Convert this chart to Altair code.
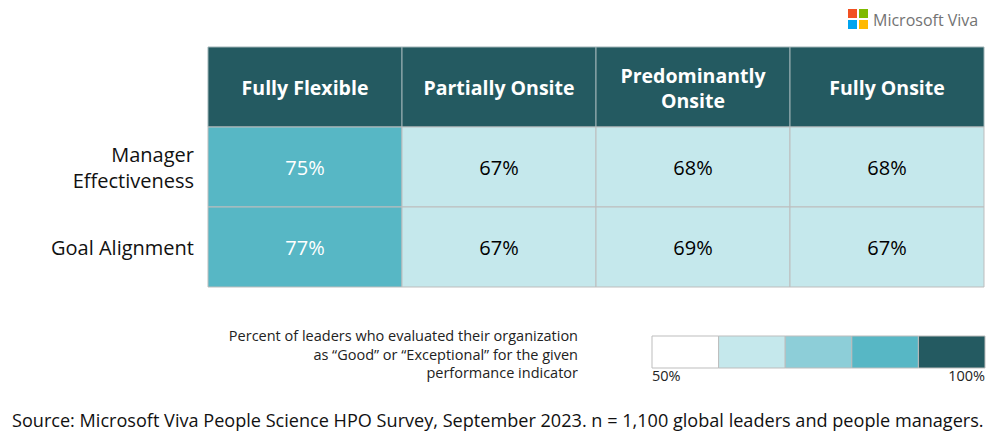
import altair as alt
import pandas as pd

# ---- data ----
columns = ["Fully Flexible", "Partially Onsite", "Predominantly Onsite", "Fully Onsite"]
column_labels = ["Fully Flexible", "Partially Onsite", "Predominantly\nOnsite", "Fully Onsite"]
rows = ["Manager Effectiveness", "Goal Alignment"]
row_labels = ["Manager\nEffectiveness", "Goal Alignment"]
manager_effectiveness = [75, 67, 68, 68]
goal_alignment = [77, 67, 69, 67]
legend_lo = [50, 60, 70, 80, 90]
legend_hi = [60, 70, 80, 90, 100]
legend_tick_values = [50, 100]
legend_tick_labels = ["50%", "100%"]
legend_caption = [
    "Percent of leaders who evaluated their organization",
    "as \u201cGood\u201d or \u201cExceptional\u201d for the given",
    "performance indicator",
]
source_text = "Source: Microsoft Viva People Science HPO Survey, September 2023. n = 1,100 global leaders and people managers."
palette = ["#FFFFFF", "#C5E8EC", "#8DCED8", "#57B7C5", "#245A61"]
thresholds = [60, 70, 75, 90]
logo_colors = ["#F25022", "#7FBA00", "#00A4EF", "#FFB900"]
header_key = "header"

FONT = "Open Sans"

cells = pd.DataFrame(
    [{"col": c, "row": rows[0], "value": v} for c, v in zip(columns, manager_effectiveness)]
    + [{"col": c, "row": rows[1], "value": v} for c, v in zip(columns, goal_alignment)]
)
cells["label"] = cells["value"].astype(str) + "%"
header = pd.DataFrame({"col": columns, "label": column_labels, "row": header_key})
header["multi"] = header["label"].str.contains("\n")
row_df = pd.DataFrame({"row": rows, "label": row_labels})
row_df["multi"] = row_df["label"].str.contains("\n")
legend_df = pd.DataFrame({"lo": legend_lo, "hi": legend_hi})
ticks_df = pd.DataFrame({"v": legend_tick_values, "t": legend_tick_labels})
one = pd.DataFrame({"a": [0]})

x_enc = alt.X("col:N", scale=alt.Scale(domain=columns, paddingInner=0, paddingOuter=0), axis=None)
y_enc = alt.Y("row:N", scale=alt.Scale(domain=[header_key] + rows, paddingInner=0, paddingOuter=0), axis=None)
color_scale = alt.Scale(type="threshold", domain=thresholds, range=palette)
legend_x = alt.Scale(domain=[50, 100], range=[444, 777])

header_rect = alt.Chart(header).mark_rect(fill="#245A61", stroke="#9FB3B6", strokeWidth=1).encode(x=x_enc, y=y_enc)
header_text_single = alt.Chart(header).transform_filter("!datum.multi").mark_text(
    color="white", font=FONT, fontSize=19.5, fontWeight="bold", dy=2
).encode(x=x_enc, y=y_enc, text="label:N")
header_text_multi = alt.Chart(header).transform_filter("datum.multi").mark_text(
    color="white", font=FONT, fontSize=19.5, fontWeight="bold", lineBreak="\n", lineHeight=25, dy=-10
).encode(x=x_enc, y=y_enc, text="label:N")

row_text_single = alt.Chart(row_df).transform_filter("!datum.multi").mark_text(
    align="right", font=FONT, fontSize=20, color="#111111", dy=2
).encode(x=alt.value(-14), y=y_enc, text="label:N")
row_text_multi = alt.Chart(row_df).transform_filter("datum.multi").mark_text(
    align="right", font=FONT, fontSize=20, color="#111111", lineBreak="\n", lineHeight=26, dy=-11
).encode(x=alt.value(-14), y=y_enc, text="label:N")

cell_rect = alt.Chart(cells).mark_rect(stroke="#BDBDBD", strokeWidth=1).encode(
    x=x_enc, y=y_enc, color=alt.Color("value:Q", scale=color_scale, legend=None)
)
cell_text = alt.Chart(cells).mark_text(font=FONT, fontSize=20, dy=2).encode(
    x=x_enc, y=y_enc, text="label:N",
    color=alt.condition(alt.datum.value >= 75, alt.value("white"), alt.value("black")),
)

legend_rect = alt.Chart(legend_df).mark_rect(stroke="#BDBDBD", strokeWidth=1).encode(
    x=alt.X("lo:Q", scale=legend_x, axis=None),
    x2="hi:Q",
    y=alt.value(289), y2=alt.value(321),
    color=alt.Color("lo:Q", scale=color_scale, legend=None),
)
tick_left = alt.Chart(ticks_df).transform_filter(alt.datum.v == 50).mark_text(
    align="left", baseline="middle", font=FONT, fontSize=14.5, color="#222222"
).encode(x=alt.X("v:Q", scale=legend_x, axis=None), y=alt.value(330), text="t:N")
tick_right = alt.Chart(ticks_df).transform_filter(alt.datum.v == 100).mark_text(
    align="right", baseline="middle", font=FONT, fontSize=14.5, color="#222222"
).encode(x=alt.X("v:Q", scale=legend_x, axis=None), y=alt.value(330), text="t:N")

caption = alt.Chart(one).mark_text(
    align="right", baseline="middle", font=FONT, fontSize=14.5, color="#222222",
    lineBreak="\n", lineHeight=18.5, text="\n".join(legend_caption),
).encode(x=alt.value(370), y=alt.value(290))

source = alt.Chart(one).mark_text(
    align="left", baseline="middle", font=FONT, fontSize=18.1, color="#111111", text=source_text
).encode(x=alt.value(-196), y=alt.value(375))

logo_pos = [(644.5, -33.5), (655.5, -33.5), (644.5, -22.5), (655.5, -22.5)]
logo_layers = [
    alt.Chart(one).mark_square(size=81, opacity=1, color=c).encode(x=alt.value(px), y=alt.value(py))
    for c, (px, py) in zip(logo_colors, logo_pos)
]
logo_text = alt.Chart(one).mark_text(
    align="left", baseline="middle", font=FONT, fontSize=16, color="#737373", text="Microsoft Viva"
).encode(x=alt.value(665), y=alt.value(-26))

chart = alt.layer(
    header_rect, header_text_single, header_text_multi, cell_rect, cell_text,
    row_text_single, row_text_multi,
    legend_rect, tick_left, tick_right, caption, source, logo_text, *logo_layers
).resolve_scale(x="independent").properties(
    width=776, height=240,
    autosize=alt.AutoSizeParams(type="none"),
    padding={"left": 200, "top": 39, "right": 7, "bottom": 146},
    background="white",
).configure_view(stroke=None)

chart.save("out.html", embed_options={"renderer": "svg", "actions": False})
